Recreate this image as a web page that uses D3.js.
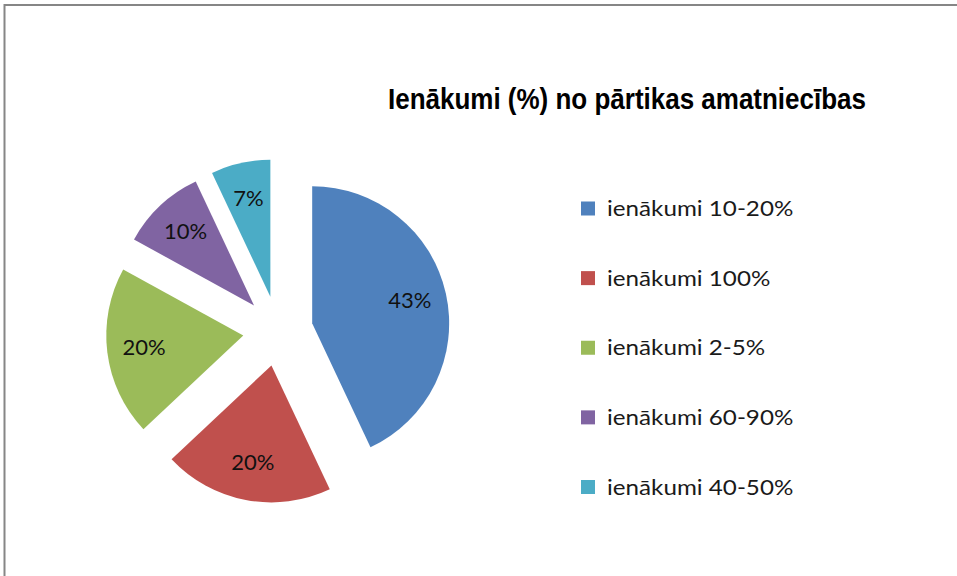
<!DOCTYPE html>
<html><head><meta charset="utf-8">
<script src="https://cdn.jsdelivr.net/npm/d3@7"></script>
<style>body{margin:0;background:#fff}svg{display:block}</style>
</head><body>
<svg id="c" width="957" height="576"></svg>
<script>
const title = "Ienākumi (%) no pārtikas amatniecības";
const categories = ["ienākumi 10-20%", "ienākumi 100%", "ienākumi 2-5%", "ienākumi 60-90%", "ienākumi 40-50%"];
const values = [43, 20, 20, 10, 7];
const colors = ["#4F81BD", "#C0504D", "#9BBB59", "#8064A2", "#4BACC6"];

const svg = d3.select("#c");
svg.append("line").attr("x1",4).attr("y1",5).attr("x2",957).attr("y2",5).attr("stroke","#868686").attr("stroke-width",2);
svg.append("line").attr("x1",4.5).attr("y1",4).attr("x2",4.5).attr("y2",576).attr("stroke","#868686").attr("stroke-width",2);

svg.append("text").attr("x",627).attr("y",109).attr("text-anchor","middle")
  .attr("font-family","'Liberation Sans Narrow','Arial Narrow','Liberation Sans',sans-serif")
  .attr("font-weight","bold").attr("font-size",29).attr("fill","#000")
  .attr("textLength",478).attr("lengthAdjust","spacingAndGlyphs")
  .text(title);

const cx = 278, cy = 331, R = 137, explode = 35, labelR = 100;
const data = categories.map((c,i)=>({cat:c, value:values[i], color:colors[i]}));
const pie = d3.pie().sort(null).value(d=>d.value).startAngle(0).endAngle(2*Math.PI);
const arc = d3.arc().innerRadius(0).outerRadius(R);
const arcs = pie(data);
const g = svg.append("g").attr("transform",`translate(${cx},${cy})`);
const slices = g.selectAll("g.s").data(arcs).join("g").attr("class","s")
  .attr("transform", d=>{const m=(d.startAngle+d.endAngle)/2; return `translate(${Math.sin(m)*explode},${-Math.cos(m)*explode})`;});
slices.append("path").attr("d",arc).attr("fill",d=>d.data.color);
const fmt = d3.format(".0%");
const total = d3.sum(values);
slices.append("text")
  .attr("x", d=>{const m=(d.startAngle+d.endAngle)/2; return Math.sin(m)*labelR;})
  .attr("y", d=>{const m=(d.startAngle+d.endAngle)/2; return -Math.cos(m)*labelR;})
  .attr("dy","0.3em").attr("text-anchor","middle")
  .attr("font-family","Lato, 'Open Sans', sans-serif").attr("font-size",22).attr("fill","#111")
  .text(d=>fmt(d.data.value/total));

const lg = svg.append("g");
const ly = d3.scalePoint().domain(categories).range([208.5, 487]);
const items = lg.selectAll("g").data(data).join("g").attr("transform",d=>`translate(581,${ly(d.cat)})`);
items.append("rect").attr("x",0).attr("y",-7).attr("width",14).attr("height",14).attr("fill",d=>d.color);
items.append("text").attr("x",26).attr("y",7.5)
  .attr("font-family","Lato, 'Open Sans', sans-serif").attr("font-size",22).attr("fill","#1a1a1a")
  .text(d=>d.cat)
  .each(function(){ const w=this.getComputedTextLength(); d3.select(this).attr("textLength", w*1.1).attr("lengthAdjust","spacingAndGlyphs"); });
</script>
</body></html>
